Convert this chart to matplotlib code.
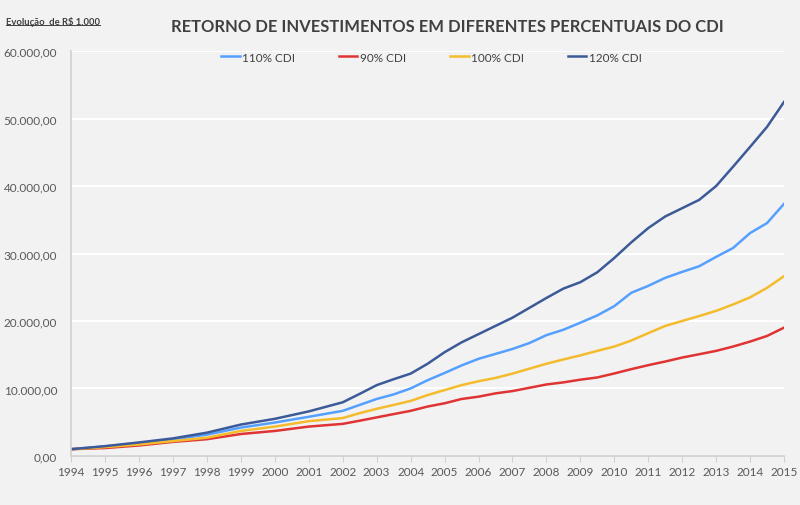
import matplotlib
matplotlib.use("Agg")
import matplotlib.pyplot as plt
from matplotlib.lines import Line2D
from matplotlib.ticker import FuncFormatter

# yearly up to 2001, then half-yearly readings
dates = [1994, 1995, 1996, 1997, 1998, 1999, 2000, 2001,
         2002, 2002.5, 2003, 2003.5, 2004, 2004.5, 2005, 2005.5, 2006, 2006.5,
         2007, 2007.5, 2008, 2008.5, 2009, 2009.5, 2010, 2010.5, 2011, 2011.5,
         2012, 2012.5, 2013, 2013.5, 2014, 2014.5, 2015]
cdi_110 = [1000, 1400, 1900, 2450, 3150, 4200, 4950, 5800,
           6680, 7560, 8440, 9120, 10000, 11220, 12290, 13410, 14390, 15120,
           15850, 16730, 17900, 18700, 19750, 20830, 22200, 24180, 25200, 26390,
           27280, 28110, 29500, 30820, 33030, 34510, 37360]
cdi_90 = [1000, 1170, 1550, 2080, 2480, 3250, 3700, 4350,
          4750, 5220, 5710, 6200, 6680, 7320, 7800, 8440, 8780, 9270,
          9610, 10100, 10590, 10900, 11300, 11630, 12220, 12860, 13450, 13990,
          14580, 15070, 15570, 16210, 16950, 17780, 19010]
cdi_100 = [1000, 1300, 1700, 2200, 2700, 3700, 4350, 5150,
           5610, 6340, 6980, 7560, 8150, 9020, 9760, 10490, 11070, 11560,
           12200, 12930, 13660, 14300, 14900, 15570, 16210, 17100, 18200, 19260,
           20000, 20730, 21500, 22450, 23500, 24910, 26640]
cdi_120 = [1000, 1450, 2000, 2600, 3450, 4650, 5500, 6600,
           7950, 9200, 10490, 11370, 12200, 13660, 15370, 16830, 18050, 19270,
           20490, 21950, 23410, 24800, 25750, 27220, 29340, 31650, 33770, 35490,
           36720, 37950, 40000, 42870, 45800, 48770, 52460]
year_ticks = list(range(1994, 2016))

series = [
    ("110% CDI", cdi_110, "#55a0ff"),
    ("90% CDI", cdi_90, "#e03434"),
    ("100% CDI", cdi_100, "#f4bc2c"),
    ("120% CDI", cdi_120, "#3c5a98"),
]

plt.rcParams["font.family"] = ["Lato", "DejaVu Sans"]
bg = "#f2f2f2"
txt = "#595959"

fig = plt.figure(figsize=(8, 5.06), dpi=100, facecolor=bg)
ax = fig.add_axes([0.089, 0.097, 0.891, 0.800], facecolor=bg)

for label, vals, color in series:
    ax.plot(dates, vals, color=color, lw=1.8, label=label)

ax.set_xlim(1994, 2015)
ax.set_ylim(0, 60000)
ax.set_xticks(year_ticks)
ax.set_yticks(range(0, 60001, 10000))


def br_fmt(v, _):
    s = f"{v:,.2f}"
    return s.replace(",", "X").replace(".", ",").replace("X", ".")


ax.yaxis.set_major_formatter(FuncFormatter(br_fmt))
ax.grid(axis="y", color="white", lw=1.5)
ax.set_axisbelow(True)
for side in ["top", "right"]:
    ax.spines[side].set_visible(False)
for side in ["left", "bottom"]:
    ax.spines[side].set_color("#d0d0d0")
    ax.spines[side].set_linewidth(1.2)
ax.tick_params(axis="x", colors="#d0d0d0", labelcolor=txt, labelsize=8.5,
               length=4, direction="out")
ax.tick_params(axis="y", length=0, labelcolor=txt, labelsize=8.5, pad=10)

ax.legend(loc="upper center", bbox_to_anchor=(0.505, 1.025), ncol=4, frameon=False,
          fontsize=8.5, handlelength=1.6, handletextpad=0.2, columnspacing=3.7,
          labelcolor="#404040")

fig.text(0.559, 0.946, "RETORNO DE INVESTIMENTOS EM DIFERENTES PERCENTUAIS DO CDI",
         ha="center", va="center", fontsize=11.9, fontweight="bold", color="#404040")
note = fig.text(0.008, 0.957, "Evolução  de R$ 1.000", ha="left", va="center",
                fontsize=6.8, fontweight="bold", color="#404040")

# underline for the small note
fig.canvas.draw()
bb = note.get_window_extent().transformed(fig.transFigure.inverted())
fig.add_artist(Line2D([bb.x0, bb.x1], [bb.y0 + 0.001, bb.y0 + 0.001],
                      transform=fig.transFigure, color="#404040", lw=0.7))

fig.savefig("out.png", dpi=100, facecolor=bg)
